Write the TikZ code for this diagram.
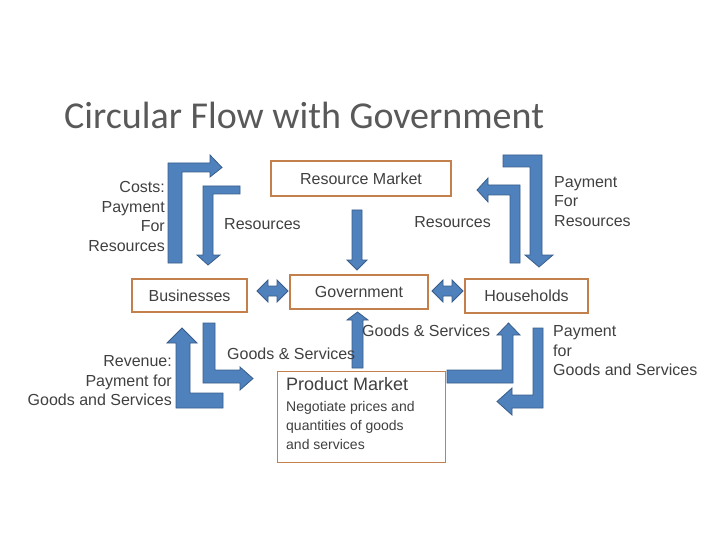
\documentclass[tikz,border=0pt]{standalone}
\usepackage{fontspec}
\setmainfont{Liberation Sans}
\newfontfamily\titlefont{Carlito}
\begin{document}
\begin{tikzpicture}[x=1pt,y=-1pt,
  arr/.style={fill={rgb,255:red,79;green,129;blue,189},draw={rgb,255:red,56;green,93;blue,138},line width=0.8pt,line join=miter},
  box/.style={draw={rgb,255:red,196;green,128;blue,76},line width=1.3pt,fill=white},
  lbl/.style={text={rgb,255:red,64;green,64;blue,64},font=\fontsize{16}{19.5}\selectfont,inner sep=0pt}]
\useasboundingbox (0,0) rectangle (720,540);
\node[anchor=base west,inner sep=0pt,text={rgb,255:red,89;green,89;blue,89},font=\titlefont\fontsize{38}{40}\selectfont] (title) at (64,129) {Circular Flow with Government};
% boxes
\node[box,lbl,minimum width=180,minimum height=35] (rm) at (361,178.5) {Resource Market};
\node[box,lbl,minimum width=115,minimum height=33] (bus) at (189.5,295.5) {Businesses};
\node[box,lbl,minimum width=138,minimum height=34] (gov) at (359,292) {Government};
\node[box,lbl,minimum width=123,minimum height=34] (hh) at (526.5,296) {Households};
\node[box,minimum width=168,minimum height=91,anchor=north west,inner sep=0pt] (pm) at (277,371) {};
\node[lbl,anchor=north west,align=left,font=\fontsize{18}{20}\selectfont] (pmt) at (286,377) {Product Market};
\node[lbl,anchor=north west,align=left,font=\fontsize{14}{19}\selectfont] (pms) at (286,401) {Negotiate prices and\\quantities of goods\\and services};
% top-left arrows
\draw[arr] (168,263) -- (168,163) -- (210,163) -- (210,155) -- (222,167.5) -- (210,177) -- (210,172) -- (182,172) -- (182,263) -- cycle;
\draw[arr] (240,186) -- (203,186) -- (203,255) -- (197,255) -- (208,265) -- (220,255) -- (213,255) -- (213,194) -- (240,194) -- cycle;
% bottom-left
\draw[arr] (223,408) -- (176,408) -- (176,343) -- (167,343) -- (182,328) -- (197,343) -- (190,343) -- (190,393) -- (223,393) -- cycle;
\draw[arr] (203,323) -- (215,323) -- (215,370) -- (240,370) -- (240,367) -- (253,378.5) -- (240,390) -- (240,383) -- (203,383) -- cycle;
% top-right
\draw[arr] (503,155) -- (542,155) -- (542,255) -- (553,255) -- (539,267) -- (525,255) -- (530,255) -- (530,167) -- (503,167) -- cycle;
\draw[arr] (520,263) -- (510,263) -- (510,195) -- (488,195) -- (488,202) -- (477,190) -- (488,178) -- (488,185) -- (520,185) -- cycle;
% bottom-right
\draw[arr] (447,370) -- (502,370) -- (502,335) -- (497,335) -- (508.5,323) -- (520,335) -- (513,335) -- (513,383) -- (447,383) -- cycle;
\draw[arr] (533,328) -- (543,328) -- (543,408) -- (512,408) -- (512,415) -- (497,401.5) -- (512,388) -- (512,395) -- (533,395) -- cycle;
% center
\draw[arr] (352,210) -- (362,210) -- (362,260) -- (367,260) -- (357,270) -- (347,260) -- (352,260) -- cycle;
\draw[arr] (352,368) -- (352,320) -- (347,320) -- (357.5,312) -- (368,320) -- (363,320) -- (363,368) -- cycle;
\draw[arr] (257,291) -- (268,280) -- (268,286) -- (277,286) -- (277,280) -- (288,291) -- (277,302) -- (277,296) -- (268,296) -- (268,302) -- cycle;
\draw[arr] (432,291) -- (443,280) -- (443,286) -- (452,286) -- (452,280) -- (463,291) -- (452,302) -- (452,296) -- (443,296) -- (443,302) -- cycle;
% labels
\node[lbl,anchor=east,align=right] (l1) at (165,216.5) {Costs:\\Payment\\For\\Resources};
\node[lbl,anchor=west] (l2) at (224,224) {Resources};
\node[lbl,anchor=east] (l3) at (491,222) {Resources};
\node[lbl,anchor=west,align=left] (l4) at (554,201.5) {Payment\\For\\Resources};
\node[lbl,anchor=east,align=right] (l5) at (172,381) {Revenue:\\Payment for\\Goods and Services};
\node[lbl,anchor=west] (l6) at (227,354) {Goods \& Services};
\node[lbl,anchor=west] (l7) at (362,331) {Goods \& Services};
\node[lbl,anchor=west,align=left] (l8) at (553,351) {Payment\\for\\Goods and Services};
\end{tikzpicture}
\end{document}
